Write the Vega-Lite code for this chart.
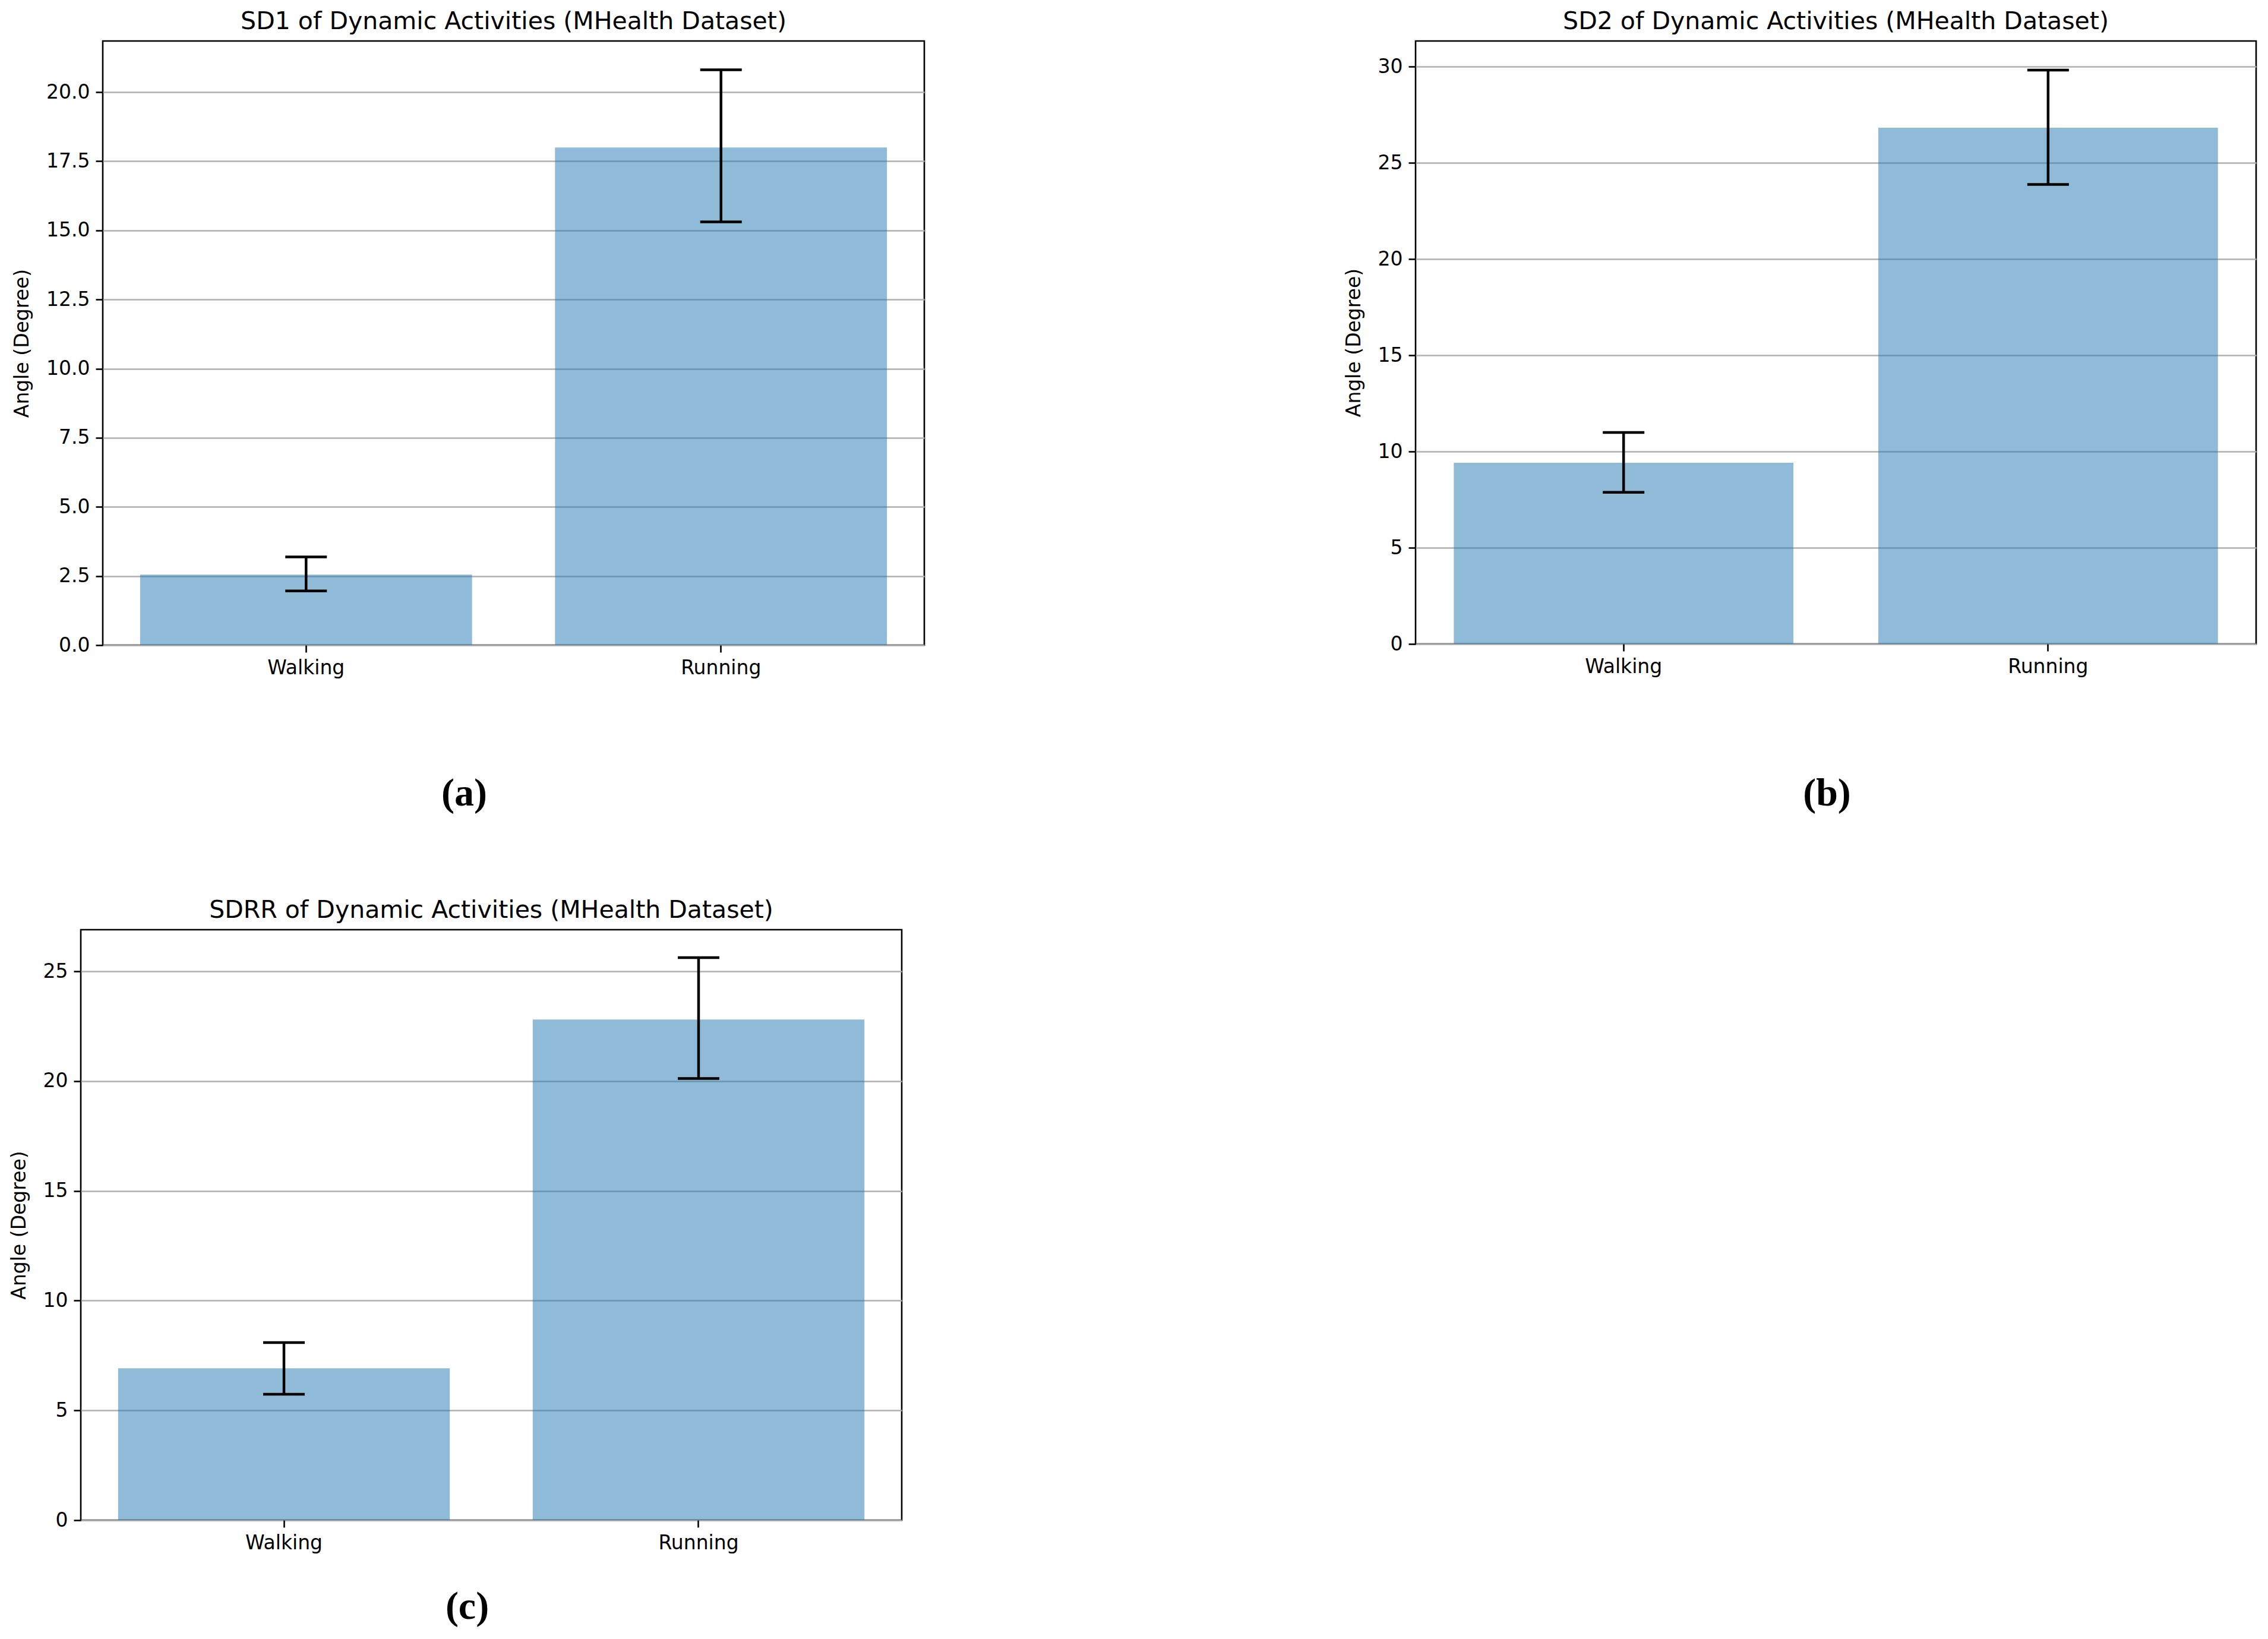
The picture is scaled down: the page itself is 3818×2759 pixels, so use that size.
{
  "$schema": "https://vega.github.io/schema/vega-lite/v6.json",
  "autosize": {"type": "pad"},
  "padding": {"left": 14, "top": 14, "right": 0, "bottom": 0},
  "background": "white",
  "datasets": {
    "sd1": [
      {"activity": "Walking", "mean": 2.55, "lo": 1.96, "hi": 3.19},
      {"activity": "Running", "mean": 18.0, "lo": 15.31, "hi": 20.81}
    ],
    "sd2": [
      {"activity": "Walking", "mean": 9.42, "lo": 7.88, "hi": 10.99},
      {"activity": "Running", "mean": 26.83, "lo": 23.88, "hi": 29.83}
    ],
    "sdrr": [
      {"activity": "Walking", "mean": 6.92, "lo": 5.74, "hi": 8.09},
      {"activity": "Running", "mean": 22.81, "lo": 20.12, "hi": 25.63}
    ]
  },
  "bounds": "flush",
  "spacing": 1496,
  "vconcat": [
    {
      "bounds": "flush",
      "spacing": 0,
      "hconcat": [
        {
          "width": 37,
          "height": 1017,
          "view": {"stroke": null},
          "data": {"values": []},
          "mark": "rule",
          "encoding": {}
        },
        {
          "bounds": "flush",
          "spacing": 827,
          "hconcat": [
            {
              "width": 1383,
              "height": 1017,
              "title": {"text": "SD1 of Dynamic Activities (MHealth Dataset)"},
              "data": {"name": "sd1"},
              "encoding": {
                "x": {
                  "field": "activity", "type": "nominal",
                  "sort": ["Walking", "Running"],
                  "scale": {"paddingInner": 0.2, "paddingOuter": 0.09},
                  "axis": {"title": "(a)", "titleX": 608, "titleY": 249}
                }
              },
              "layer": [
                {
                  "mark": {"type": "bar", "color": "#1f77b4", "opacity": 0.5},
                  "encoding": {
                    "y": {
                      "field": "mean", "type": "quantitative", "title": "Angle (Degree)",
                      "scale": {"domain": [0, 21.85], "nice": false},
                      "axis": {"values": [0, 2.5, 5, 7.5, 10, 12.5, 15, 17.5, 20], "format": ".1f"}
                    }
                  }
                },
                {
                  "mark": {"type": "rule", "color": "#000", "strokeWidth": 4.5},
                  "encoding": {
                    "y": {"field": "lo", "type": "quantitative", "title": "Angle (Degree)"},
                    "y2": {"field": "hi"}
                  }
                },
                {
                  "mark": {"type": "tick", "color": "#000", "opacity": 1, "thickness": 4.5, "size": 70, "orient": "horizontal"},
                  "encoding": {"y": {"field": "lo", "type": "quantitative", "title": "Angle (Degree)"}}
                },
                {
                  "mark": {"type": "tick", "color": "#000", "opacity": 1, "thickness": 4.5, "size": 70, "orient": "horizontal"},
                  "encoding": {"y": {"field": "hi", "type": "quantitative", "title": "Angle (Degree)"}}
                }
              ]
            },
            {
              "width": 1415,
              "height": 1015,
              "title": {"text": "SD2 of Dynamic Activities (MHealth Dataset)"},
              "data": {"name": "sd2"},
              "encoding": {
                "x": {
                  "field": "activity", "type": "nominal",
                  "sort": ["Walking", "Running"],
                  "scale": {"paddingInner": 0.2, "paddingOuter": 0.09},
                  "axis": {"title": "(b)", "titleX": 692, "titleY": 251}
                }
              },
              "layer": [
                {
                  "mark": {"type": "bar", "color": "#1f77b4", "opacity": 0.5},
                  "encoding": {
                    "y": {
                      "field": "mean", "type": "quantitative", "title": "Angle (Degree)",
                      "scale": {"domain": [0, 31.34], "nice": false},
                      "axis": {"values": [0, 5, 10, 15, 20, 25, 30], "format": "d"}
                    }
                  }
                },
                {
                  "mark": {"type": "rule", "color": "#000", "strokeWidth": 4.5},
                  "encoding": {
                    "y": {"field": "lo", "type": "quantitative", "title": "Angle (Degree)"},
                    "y2": {"field": "hi"}
                  }
                },
                {
                  "mark": {"type": "tick", "color": "#000", "opacity": 1, "thickness": 4.5, "size": 70, "orient": "horizontal"},
                  "encoding": {"y": {"field": "lo", "type": "quantitative", "title": "Angle (Degree)"}}
                },
                {
                  "mark": {"type": "tick", "color": "#000", "opacity": 1, "thickness": 4.5, "size": 70, "orient": "horizontal"},
                  "encoding": {"y": {"field": "hi", "type": "quantitative", "title": "Angle (Degree)"}}
                }
              ]
            }
          ]
        }
      ]
    },
    {
      "width": 1382,
      "height": 994,
      "title": {"text": "SDRR of Dynamic Activities (MHealth Dataset)"},
      "data": {"name": "sdrr"},
      "encoding": {
        "x": {
          "field": "activity", "type": "nominal",
          "sort": ["Walking", "Running"],
          "scale": {"paddingInner": 0.2, "paddingOuter": 0.09},
          "axis": {"title": "(c)", "titleX": 650, "titleY": 145}
        }
      },
      "layer": [
        {
          "mark": {"type": "bar", "color": "#1f77b4", "opacity": 0.5},
          "encoding": {
            "y": {
              "field": "mean", "type": "quantitative", "title": "Angle (Degree)",
              "scale": {"domain": [0, 26.9], "nice": false},
              "axis": {"values": [0, 5, 10, 15, 20, 25], "format": "d"}
            }
          }
        },
        {
          "mark": {"type": "rule", "color": "#000", "strokeWidth": 4.5},
          "encoding": {
            "y": {"field": "lo", "type": "quantitative", "title": "Angle (Degree)"},
            "y2": {"field": "hi"}
          }
        },
        {
          "mark": {"type": "tick", "color": "#000", "opacity": 1, "thickness": 4.5, "size": 70, "orient": "horizontal"},
          "encoding": {"y": {"field": "lo", "type": "quantitative", "title": "Angle (Degree)"}}
        },
        {
          "mark": {"type": "tick", "color": "#000", "opacity": 1, "thickness": 4.5, "size": 70, "orient": "horizontal"},
          "encoding": {"y": {"field": "hi", "type": "quantitative", "title": "Angle (Degree)"}}
        }
      ]
    }
  ],
  "config": {
    "font": "DejaVu Sans",
    "view": {"stroke": "#000", "strokeWidth": 2.6},
    "title": {"font": "DejaVu Sans", "fontSize": 41, "fontWeight": "normal", "color": "#000", "anchor": "middle", "offset": 11},
    "axis": {
      "labelFont": "DejaVu Sans", "labelFontSize": 33, "labelColor": "#000",
      "titleFont": "DejaVu Sans", "titleFontSize": 33, "titleFontWeight": "normal", "titleColor": "#000",
      "tickColor": "#000", "tickWidth": 2.6, "tickSize": 12, "labelPadding": 10,
      "domain": false
    },
    "axisX": {
      "labelAngle": 0, "grid": false,
      "titleFont": "Liberation Serif", "titleFontSize": 66, "titleFontWeight": "bold",
      "titleAlign": "center", "titleBaseline": "middle", "titleAngle": 0
    },
    "axisY": {
      "grid": true, "gridColor": "#b0b0b0", "gridWidth": 2.6, "gridOpacity": 1,
      "titlePadding": 23, "zindex": 1
    }
  }
}
